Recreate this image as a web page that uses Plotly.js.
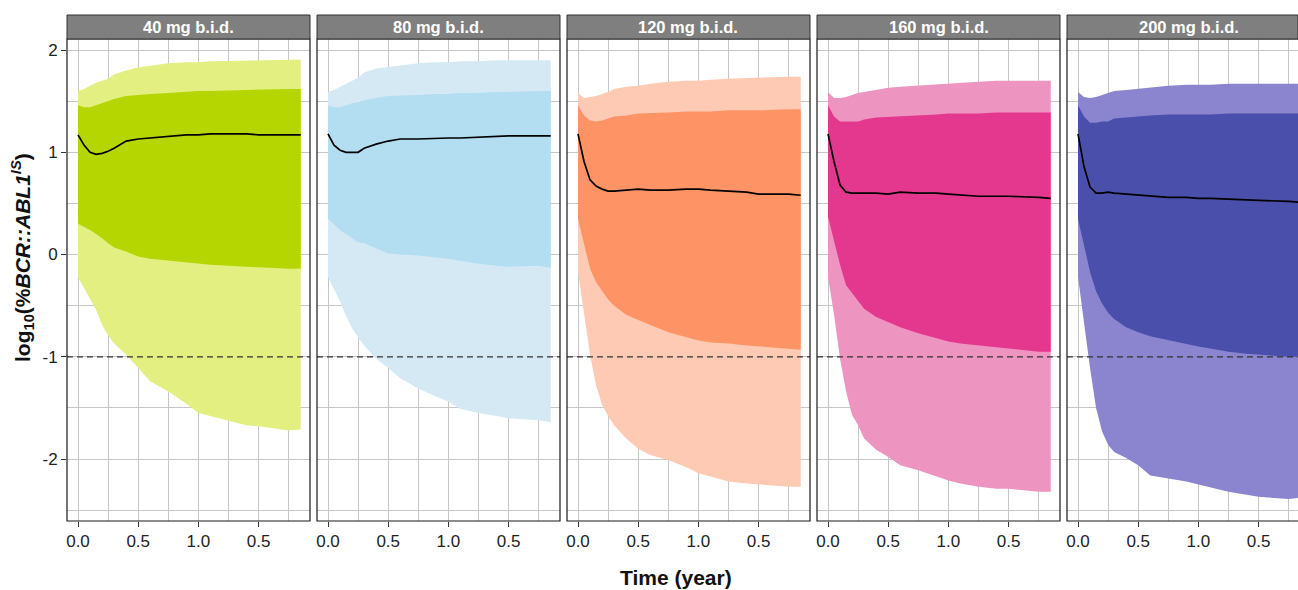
<!DOCTYPE html>
<html>
<head>
<meta charset="utf-8">
<script src="https://cdn.plot.ly/plotly-3.0.1.min.js"></script>
<style>html,body{margin:0;padding:0;background:#fff;}#chart{width:1298px;height:590px;}</style>
</head>
<body>
<div id="chart"></div>
<script>
// ---- data ----
const panelLabels = ["40 mg b.i.d.", "80 mg b.i.d.", "120 mg b.i.d.", "160 mg b.i.d.", "200 mg b.i.d."];
const time = [0, 0.05, 0.1, 0.15, 0.2, 0.25, 0.3, 0.4, 0.5, 0.6, 0.75, 0.9, 1.0, 1.1, 1.25, 1.4, 1.5, 1.75, 1.85];
const xTickVals = [0, 0.5, 1, 1.5];
const xTickText = ["0.0", "0.5", "1.0", "0.5"];
const yTickVals = [-2, -1, 0, 1, 2];
const yTickText = ["-2", "-1", "0", "1", "2"];
const thresholdY = -1;

// 40 mg
const outerHigh40 = [1.60,1.62,1.65,1.68,1.70,1.72,1.76,1.80,1.83,1.85,1.87,1.88,1.88,1.89,1.89,1.90,1.90,1.905,1.905];
const innerHigh40 = [1.46,1.44,1.44,1.46,1.48,1.50,1.52,1.55,1.56,1.57,1.58,1.59,1.60,1.60,1.60,1.61,1.61,1.62,1.62];
const median40    = [1.17,1.07,1.00,0.98,0.99,1.01,1.04,1.11,1.13,1.14,1.15,1.17,1.17,1.18,1.18,1.18,1.17,1.17,1.17];
const innerLow40  = [0.30,0.27,0.24,0.20,0.16,0.11,0.07,0.03,-0.02,-0.04,-0.06,-0.08,-0.09,-0.10,-0.11,-0.12,-0.13,-0.14,-0.14];
const outerLow40  = [-0.22,-0.33,-0.43,-0.54,-0.69,-0.79,-0.87,-0.98,-1.11,-1.24,-1.34,-1.46,-1.55,-1.58,-1.62,-1.67,-1.68,-1.72,-1.71];
// 80 mg
const outerHigh80 = [1.59,1.61,1.64,1.67,1.70,1.73,1.78,1.82,1.83,1.85,1.87,1.88,1.88,1.89,1.89,1.90,1.90,1.90,1.90];
const innerHigh80 = [1.46,1.44,1.44,1.46,1.48,1.49,1.51,1.53,1.55,1.55,1.56,1.57,1.57,1.58,1.58,1.59,1.59,1.60,1.60];
const median80    = [1.18,1.07,1.02,1.00,1.00,1.00,1.04,1.08,1.11,1.13,1.13,1.14,1.14,1.14,1.15,1.16,1.16,1.16,1.16];
const innerLow80  = [0.35,0.29,0.24,0.20,0.16,0.12,0.11,0.06,0.01,0.00,-0.01,-0.03,-0.04,-0.06,-0.09,-0.11,-0.12,-0.11,-0.13];
const outerLow80  = [-0.22,-0.34,-0.46,-0.60,-0.72,-0.81,-0.89,-1.02,-1.11,-1.21,-1.31,-1.39,-1.44,-1.51,-1.55,-1.58,-1.60,-1.62,-1.64];
// 120 mg
const outerHigh120 = [1.58,1.53,1.54,1.55,1.57,1.59,1.62,1.64,1.65,1.67,1.69,1.70,1.70,1.71,1.72,1.73,1.73,1.74,1.74];
const innerHigh120 = [1.46,1.36,1.31,1.30,1.31,1.33,1.35,1.36,1.38,1.38,1.39,1.40,1.40,1.40,1.41,1.41,1.41,1.42,1.42];
const median120    = [1.18,0.91,0.73,0.67,0.64,0.62,0.62,0.63,0.64,0.63,0.63,0.64,0.64,0.63,0.62,0.61,0.59,0.59,0.58];
const innerLow120  = [0.35,0.09,-0.14,-0.27,-0.36,-0.44,-0.50,-0.59,-0.64,-0.69,-0.76,-0.81,-0.84,-0.86,-0.87,-0.89,-0.90,-0.92,-0.93];
const outerLow120  = [-0.17,-0.59,-0.98,-1.28,-1.47,-1.58,-1.67,-1.80,-1.90,-1.96,-2.01,-2.08,-2.14,-2.17,-2.22,-2.24,-2.25,-2.27,-2.27];
// 160 mg
const outerHigh160 = [1.59,1.53,1.53,1.54,1.56,1.58,1.59,1.61,1.63,1.64,1.65,1.66,1.67,1.68,1.69,1.70,1.70,1.70,1.70];
const innerHigh160 = [1.46,1.35,1.30,1.30,1.30,1.30,1.32,1.34,1.35,1.35,1.36,1.37,1.38,1.38,1.38,1.39,1.39,1.39,1.39];
const median160    = [1.18,0.91,0.68,0.61,0.60,0.60,0.60,0.60,0.59,0.61,0.60,0.60,0.59,0.58,0.57,0.57,0.57,0.56,0.55];
const innerLow160  = [0.37,0.12,-0.10,-0.30,-0.38,-0.46,-0.53,-0.61,-0.66,-0.71,-0.77,-0.82,-0.85,-0.87,-0.89,-0.91,-0.92,-0.95,-0.95];
const outerLow160  = [-0.22,-0.59,-1.02,-1.34,-1.57,-1.67,-1.80,-1.91,-1.98,-2.06,-2.11,-2.17,-2.21,-2.24,-2.27,-2.29,-2.29,-2.32,-2.32];
// 200 mg
const outerHigh200 = [1.59,1.54,1.53,1.54,1.56,1.58,1.60,1.61,1.62,1.63,1.65,1.66,1.66,1.66,1.67,1.67,1.67,1.67,1.67];
const innerHigh200 = [1.46,1.35,1.29,1.29,1.30,1.30,1.33,1.34,1.35,1.36,1.37,1.37,1.37,1.37,1.38,1.38,1.38,1.38,1.38];
const median200    = [1.18,0.86,0.66,0.60,0.60,0.61,0.60,0.59,0.58,0.57,0.56,0.56,0.55,0.55,0.54,0.53,0.53,0.52,0.51];
const innerLow200  = [0.35,0.09,-0.17,-0.36,-0.48,-0.57,-0.63,-0.71,-0.76,-0.80,-0.84,-0.88,-0.90,-0.92,-0.95,-0.97,-0.98,-1.00,-1.00];
const outerLow200  = [-0.22,-0.69,-1.11,-1.50,-1.73,-1.86,-1.93,-1.99,-2.06,-2.16,-2.19,-2.22,-2.25,-2.28,-2.32,-2.35,-2.37,-2.39,-2.38];

const outerColors = ["#e3ef80", "#d4e9f4", "#fecab4", "#ee94c0", "#8b85cf"];
const innerColors = ["#b5d600", "#b3ddf0", "#fe9466", "#e4388e", "#4a4fab"];

const series = [
  [outerLow40, innerLow40, median40, innerHigh40, outerHigh40],
  [outerLow80, innerLow80, median80, innerHigh80, outerHigh80],
  [outerLow120, innerLow120, median120, innerHigh120, outerHigh120],
  [outerLow160, innerLow160, median160, innerHigh160, outerHigh160],
  [outerLow200, innerLow200, median200, innerHigh200, outerHigh200]
];

// ---- layout geometry ----
const W = 1298, H = 590;
const M = {l: 67, r: 0, t: 39, b: 69};
const PW = W - M.l - M.r, PH = H - M.t - M.b;
const panelStep = 250, panelWidth = 243;
const pxPerUnit = 120.4;
const xMin = -0.0914;
const yRange = [-2.606, 2.108];
const stripH = 24 / PH;
const font = "Arial, 'Liberation Sans', sans-serif";
const gridColor = "#c6c6c6";

const traces = [];
const layout = {
  width: W, height: H,
  margin: M,
  paper_bgcolor: "#ffffff",
  plot_bgcolor: "#ffffff",
  showlegend: false,
  font: {family: font, size: 17, color: "#222"},
  shapes: [],
  annotations: []
};

for (let i = 0; i < 5; i++) {
  const ax = i === 0 ? "" : String(i + 1);
  const xa = "x" + ax, ya = "y" + ax;
  const left = i * panelStep;
  const right = Math.min(left + panelWidth, PW);
  const d0 = left / PW, d1 = right / PW;
  const xMax = xMin + (right - left) / pxPerUnit;
  const [oLo, iLo, med, iHi, oHi] = series[i];

  const revT = time.slice().reverse();
  traces.push({
    type: "scatter", mode: "lines", xaxis: xa, yaxis: ya,
    x: time.concat(revT), y: oLo.concat(oHi.slice().reverse()),
    fill: "toself", fillcolor: outerColors[i], line: {width: 0}, hoverinfo: "skip"
  });
  traces.push({
    type: "scatter", mode: "lines", xaxis: xa, yaxis: ya,
    x: time.concat(revT), y: iLo.concat(iHi.slice().reverse()),
    fill: "toself", fillcolor: innerColors[i], line: {width: 0}, hoverinfo: "skip"
  });
  traces.push({
    type: "scatter", mode: "lines", xaxis: xa, yaxis: ya,
    x: time, y: med, line: {color: "#000", width: 1.7}
  });

  layout["xaxis" + ax] = {
    domain: [d0, d1], anchor: ya, range: [xMin, xMax],
    tickmode: "array", tickvals: xTickVals, ticktext: xTickText,
    ticks: "outside", ticklen: 5, tickwidth: 1, tickcolor: "#333",
    showgrid: true, gridcolor: gridColor, gridwidth: 1,
    minor: {tickmode: "array", tickvals: [0.25, 0.75, 1.25, 1.75], showgrid: true, gridcolor: gridColor, gridwidth: 1, ticks: ""},
    zeroline: false, showline: false,
    tickfont: {family: font, size: 17, color: "#222"}
  };
  layout["yaxis" + ax] = {
    domain: [0, 1], anchor: xa, range: yRange,
    tickmode: "array", tickvals: yTickVals, ticktext: yTickText,
    ticks: i === 0 ? "outside" : "", ticklen: 5, tickwidth: 1, tickcolor: "#333",
    showticklabels: i === 0,
    showgrid: true, gridcolor: gridColor, gridwidth: 1,
    minor: {tickmode: "array", tickvals: [-2.5, -1.5, -0.5, 0.5, 1.5], showgrid: true, gridcolor: gridColor, gridwidth: 1, ticks: ""},
    zeroline: false, showline: false,
    tickfont: {family: font, size: 17, color: "#222"}
  };
  if (i > 0) layout["yaxis" + ax].matches = "y";

  // threshold dashed line
  layout.shapes.push({
    type: "line", xref: xa + " domain", yref: ya, x0: 0, x1: 1, y0: thresholdY, y1: thresholdY,
    line: {color: "#333", width: 1.3, dash: "6px,4px"}, layer: "above"
  });

  // panel border
  if (i < 4) {
    layout.shapes.push({type: "rect", xref: "paper", yref: "paper", x0: d0, x1: d1, y0: 0, y1: 1,
      line: {color: "#1a1a1a", width: 1.2}, fillcolor: "rgba(0,0,0,0)", layer: "above"});
  } else {
    layout.shapes.push({type: "path", xref: "paper", yref: "paper",
      path: `M ${d1} 0 L ${d0} 0 L ${d0} 1 L ${d1} 1`,
      line: {color: "#1a1a1a", width: 1.2}, layer: "above"});
  }
  // strip
  layout.shapes.push({type: "rect", xref: "paper", yref: "paper", x0: d0, x1: d1, y0: 1, y1: 1 + stripH,
    fillcolor: "#7f7f7f", line: {color: "#333", width: 1}, layer: "above"});
  layout.annotations.push({
    xref: "paper", yref: "paper", x: (left + panelWidth / 2) / PW, y: 1 + stripH / 2,
    text: "<b>" + panelLabels[i] + "</b>", showarrow: false, xanchor: "center", yanchor: "middle",
    font: {family: font, size: 16.5, color: "#ffffff"}
  });
}

// axis titles
layout.annotations.push({
  xref: "paper", yref: "paper", x: (676 - M.l) / PW, y: -(577 - (H - M.b)) / PH,
  text: "<b>Time (year)</b>", showarrow: false, xanchor: "center", yanchor: "middle",
  font: {family: font, size: 21, color: "#111"}
});
layout.annotations.push({
  xref: "paper", yref: "paper", x: -(M.l - 22) / PW, y: (H - M.b - 258) / PH,
  text: "<b>log<sub>10</sub>(%<i>BCR::ABL1</i><sup><i>IS</i></sup>)</b>", showarrow: false,
  xanchor: "center", yanchor: "middle", textangle: -90,
  font: {family: font, size: 21, color: "#111"}
});

Plotly.newPlot("chart", traces, layout, {displayModeBar: false, staticPlot: true});
</script>
</body>
</html>
